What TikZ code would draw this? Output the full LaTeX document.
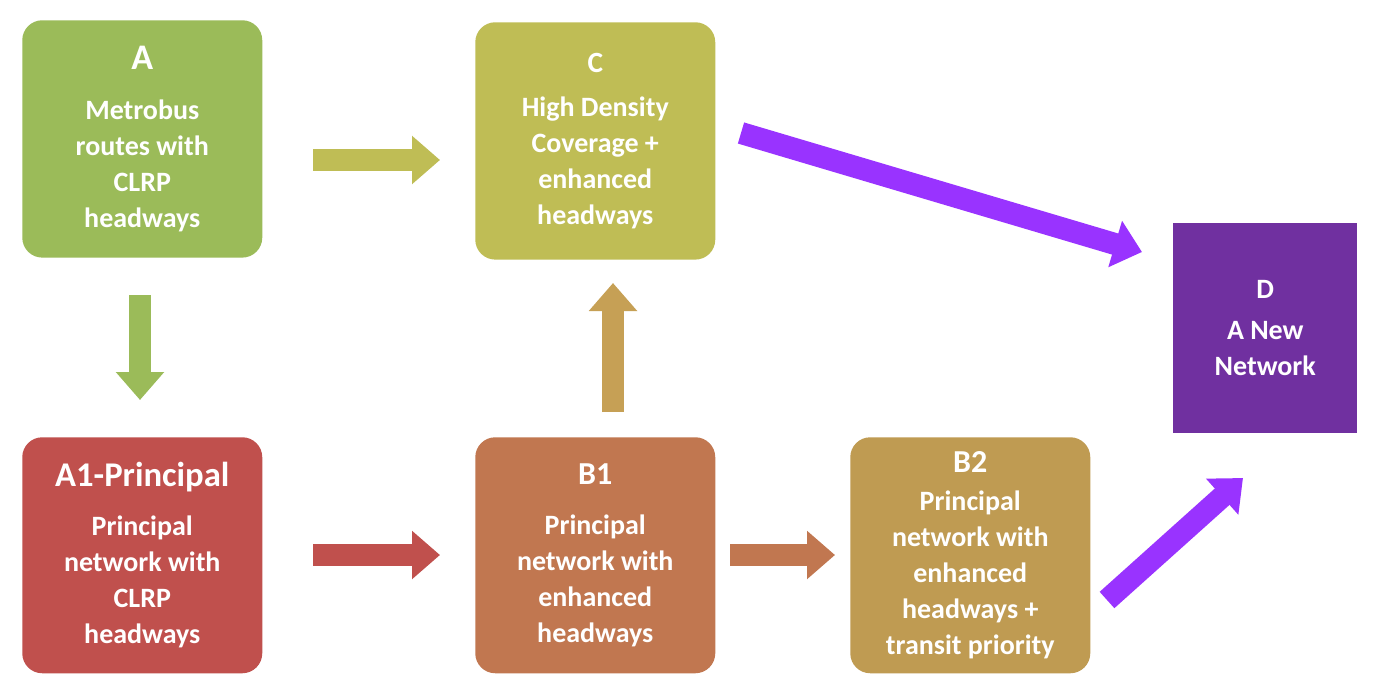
\documentclass[tikz,border=0pt]{standalone}
\usepackage{fontspec}
\setmainfont{Carlito}
\usetikzlibrary{arrows.meta}
\definecolor{cA}{HTML}{9BBB59}
\definecolor{cC}{HTML}{BFBD55}
\definecolor{cAA}{HTML}{C0504D}
\definecolor{cB}{HTML}{C17750}
\definecolor{cBB}{HTML}{BF9B52}
\definecolor{cD}{HTML}{7030A0}
\definecolor{cUp}{HTML}{C6A055}
\definecolor{cP}{HTML}{9933FF}
\begin{document}
\begin{tikzpicture}[x=0.75pt,y=-0.75pt,
 box/.style={rounded corners=15pt,minimum width=180pt,minimum height=178pt,anchor=north west,text=white,font=\bfseries\fontsize{21}{27}\selectfont,align=center,inner sep=0pt},
 big/.style={arrows={-Triangle[length=21pt,width=35pt]},line width=16.5pt,shorten >=0pt}]
\useasboundingbox (0,0) rectangle (1381,696);
\fill[white] (0,0) rectangle (1381,696);
\node[box,fill=cA] (A) at (22,20) {{\fontsize{27}{30}\selectfont A}\\[10pt]Metrobus\\routes with\\CLRP\\headways};
\node[box,fill=cC] (C) at (475,22) {{\fontsize{22}{26}\selectfont C}\\[6pt]High Density\\Coverage +\\enhanced\\headways};
\node[box,fill=cAA,minimum height=177pt] (A1) at (22,437) {{\fontsize{26}{30}\selectfont A1-Principal}\\[10pt]Principal\\network with\\CLRP\\headways};
\node[box,fill=cB,minimum height=177pt] (B1) at (475,437) {{\fontsize{24}{28}\selectfont B1}\\[10pt]Principal\\network with\\enhanced\\headways};
\node[box,fill=cBB,minimum height=177pt] (B2) at (850,437) {{\fontsize{24}{28}\selectfont B2}\\[2pt]Principal\\network with\\enhanced\\headways +\\transit priority};
\node[fill=cD,minimum width=138pt,minimum height=157pt,anchor=north west,text=white,font=\bfseries\fontsize{21}{27}\selectfont,align=center,inner sep=0pt] (D) at (1173,223) {D\\[4pt]A New\\Network};
\coordinate (a1) at (313,160); \coordinate (a2) at (440,160);
\coordinate (b1) at (140,295); \coordinate (b2) at (140,400);
\coordinate (c1) at (313,555); \coordinate (c2) at (440,555);
\coordinate (d1) at (613,412); \coordinate (d2) at (613,283);
\coordinate (e1) at (730,555); \coordinate (e2) at (835,555);
\coordinate (f1) at (741,133); \coordinate (f2) at (1142,252);
\coordinate (g1) at (1107,600); \coordinate (g2) at (1243,478);
\draw[big,cC] (a1) -- (a2);
\draw[big,cA] (b1) -- (b2);
\draw[big,cAA] (c1) -- (c2);
\draw[big,cUp] (d1) -- (d2);
\draw[big,cB] (e1) -- (e2);
\draw[big,cP] (f1) -- (f2);
\draw[big,cP] (g1) -- (g2);
\end{tikzpicture}
\end{document}
